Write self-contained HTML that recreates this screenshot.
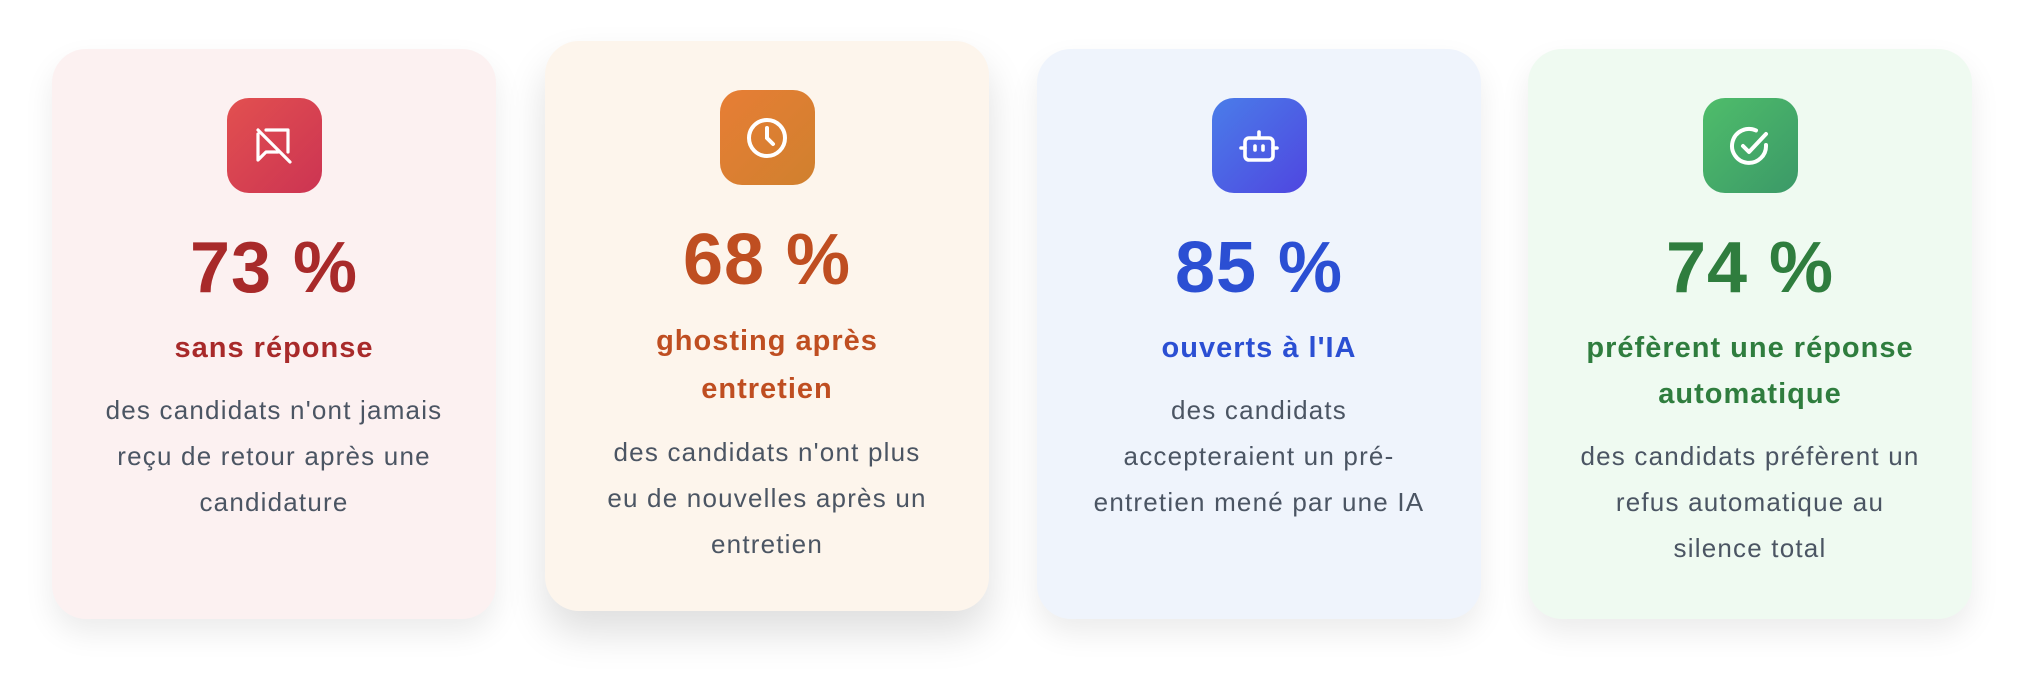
<!DOCTYPE html>
<html><head><meta charset="utf-8"><style>
*{margin:0;padding:0;box-sizing:border-box}
body{width:2022px;height:682px;background:#fff;font-family:"Liberation Sans",Arial,sans-serif;position:relative;overflow:hidden}
.card{position:absolute;width:444px;height:570px;border-radius:34px;text-align:center;box-shadow:0 14px 30px rgba(0,0,0,0.08)}
.card.lift{box-shadow:0 22px 40px rgba(0,0,0,0.13)}
.icon{width:95px;height:95px;border-radius:22px;margin:49px auto 0;display:flex;align-items:center;justify-content:center}
.pct{font-size:72px;font-weight:bold;line-height:86px;margin-top:32px;letter-spacing:1px}
.lab{font-size:29px;font-weight:bold;line-height:46px;margin-top:14px;letter-spacing:1px}
.desc{font-size:26px;line-height:46px;color:#4b5563;margin-top:16px;letter-spacing:1.2px;white-space:nowrap}
</style></head><body>

<div class="card" style="left:52px;top:49px;background:#fcf1f1">
 <div class="icon" style="background:linear-gradient(135deg,#e25050,#cc3452)">
  <svg width="48" height="48" viewBox="0 0 24 24" fill="none" stroke="#fff" stroke-width="1.6" stroke-linecap="round" stroke-linejoin="round"><path d="M4 4l16 16M8 4h11v11M4 6v13l4-4h6"/></svg>
 </div>
 <div class="pct" style="color:#a82a2a">73 %</div>
 <div class="lab" style="color:#a82a2a">sans réponse</div>
 <div class="desc">des candidats n'ont jamais<br>reçu de retour après une<br>candidature</div>
</div>

<div class="card lift" style="left:545px;top:41px;background:#fdf5ec">
 <div class="icon" style="background:linear-gradient(135deg,#e77e35,#d0802e)">
  <svg width="48" height="48" viewBox="0 0 24 24" fill="none" stroke="#fff" stroke-width="2" stroke-linecap="round"><circle cx="12" cy="12" r="9"/><path d="M12 7v5l3 3"/></svg>
 </div>
 <div class="pct" style="color:#bf4e21">68 %</div>
 <div class="lab" style="color:#bf4e21;line-height:48px">ghosting après<br>entretien</div>
 <div class="desc">des candidats n'ont plus<br>eu de nouvelles après un<br>entretien</div>
</div>

<div class="card" style="left:1037px;top:49px;background:#eff4fc">
 <div class="icon" style="background:linear-gradient(135deg,#4a7de9,#4f46e0)">
  <svg width="48" height="48" viewBox="0 0 24 24" fill="none" stroke="#fff" stroke-width="1.8" stroke-linecap="round"><rect x="5" y="8" width="14" height="11" rx="2"/><path d="M12 8V5M3 13h2M19 13h2M10 12v2M14 12v2"/></svg>
 </div>
 <div class="pct" style="color:#2b4fd3">85 %</div>
 <div class="lab" style="color:#2b4fd3">ouverts à l'IA</div>
 <div class="desc">des candidats<br>accepteraient un pré-<br>entretien mené par une IA</div>
</div>

<div class="card" style="left:1528px;top:49px;background:#effaf1">
 <div class="icon" style="background:linear-gradient(135deg,#4fbd6a,#3b9968)">
  <svg width="48" height="48" viewBox="0 0 24 24" fill="none" stroke="#fff" stroke-width="2" stroke-linecap="round" stroke-linejoin="round"><path d="M20 11.5A8.5 8.5 0 1 1 15 4.2"/><path d="M8.5 12l3 3L20 6"/></svg>
 </div>
 <div class="pct" style="color:#2f7d3e">74 %</div>
 <div class="lab" style="color:#2f7d3e">préfèrent une réponse<br>automatique</div>
 <div class="desc">des candidats préfèrent un<br>refus automatique au<br>silence total</div>
</div>

</body></html>
